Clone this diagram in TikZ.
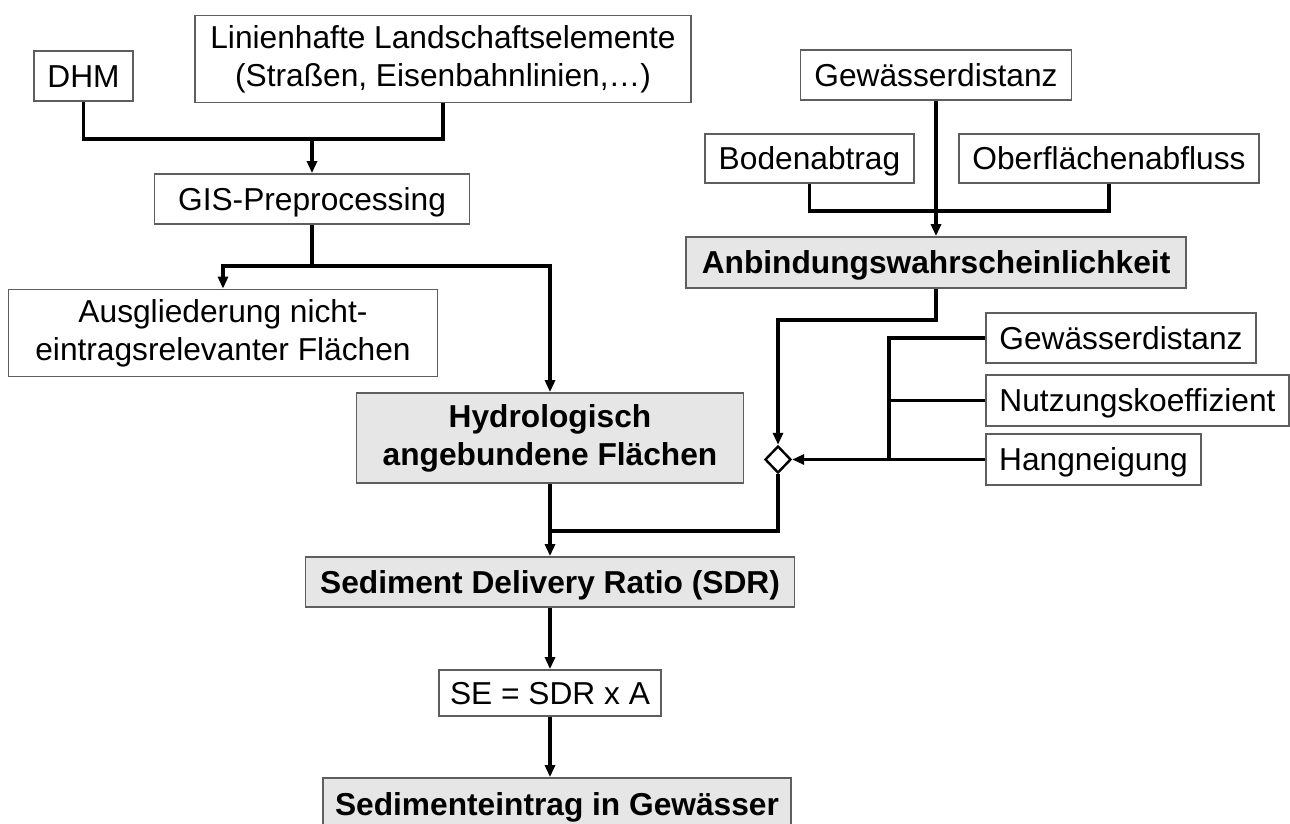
\documentclass[tikz,border=0pt]{standalone}
\usepackage{fontspec}
\setmainfont{Liberation Sans}
\usepackage{xcolor}
\usepackage{tikz}
\usetikzlibrary{arrows.meta,shapes.geometric}
\definecolor{rulegray}{HTML}{5E5E5E}
\definecolor{softgray}{HTML}{E6E6E6}

\begin{document}
\begin{tikzpicture}[x=0.5pt,y=-0.5pt,every node/.style={font=\fontsize{15.85pt}{19pt}\selectfont},box/.style={draw=rulegray,line width=0.9pt,fill=white,align=center,inner sep=0pt},oneline/.style={text height=11.4pt,text depth=0pt},result/.style={box,fill=softgray,font=\fontsize{15.85pt}{19pt}\selectfont\bfseries},merge/.style={diamond,draw,line width=1.2pt,fill=white,inner sep=0pt,minimum width=13pt,minimum height=13.5pt},line/.style={line width=1.6pt},arr/.style={line,-{Triangle[length=6pt,width=5pt]}}]
\useasboundingbox (0,0) rectangle (1290,824);
% left branch
\node[box,oneline,minimum width=49.5pt,minimum height=25pt] (dhm) at (83.5,76) {DHM};
\node[box,minimum width=248pt,minimum height=43.5pt] (lin) at (443,59) {Linienhafte Landschaftselemente\\(Straßen, Eisenbahnlinien,\dots)};
\node[box,oneline,minimum width=157.5pt,minimum height=25pt] (gis) at (312,199) {GIS-Preprocessing};
\node[box,minimum width=214.5pt,minimum height=43.5pt] (ausg) at (223,333) {Ausgliederung nicht-\\eintragsrelevanter Flächen};
\node[result,minimum width=193.5pt,minimum height=45pt] (hydro) at (550,438) {Hydrologisch\\angebundene Flächen};
% right branch
\node[box,oneline,minimum width=135.5pt,minimum height=25pt] (gew) at (936,75) {Gewässerdistanz};
\node[box,oneline,minimum width=104.5pt,minimum height=24.5pt] (boden) at (809.5,158.5) {Bodenabtrag};
\node[box,oneline,minimum width=150pt,minimum height=24.5pt] (ober) at (1109,158.5) {Oberflächenabfluss};
\node[result,oneline,minimum width=250pt,minimum height=25.5pt] (anb) at (936,262.5) {Anbindungswahrscheinlichkeit};
\node[box,oneline,minimum width=135pt,minimum height=25pt] (gewb) at (1121,338) {Gewässerdistanz};
\node[box,oneline,minimum width=151.5pt,minimum height=25.5pt] (nutz) at (1137.5,400.5) {Nutzungskoeffizient};
\node[box,oneline,minimum width=107.5pt,minimum height=25.5pt] (hang) at (1093.5,459.5) {Hangneigung};
\node[merge] (mrg) at (778,459.5) {};
% result chain
\node[result,oneline,minimum width=244.5pt,minimum height=25pt] (sdr) at (550,582) {Sediment Delivery Ratio (SDR)};
\node[box,oneline,minimum width=111pt,minimum height=23pt] (se) at (550,693) {SE = SDR x A};
\node[result,oneline,minimum width=234pt,minimum height=26pt] (sed) at (557,804) {Sedimenteintrag in Gewässer};
% connectors
\coordinate (topjoin) at (312,139);\coordinate (gisjoin) at (312,266);\coordinate (bus) at (889,459.5);\coordinate (sdrjoin) at (550,531);
\draw[line] (dhm.south) |- (topjoin) -| (lin.south);\draw[arr] (topjoin) -- (gis.north);
\draw[line] (gis.south) -- (gisjoin);\draw[arr] (gisjoin) -| (ausg.north);\draw[arr] (gisjoin) -| (hydro.north);
\draw[arr] (gew.south) -- (anb.north);\draw[line] (boden.south) -- ++(0,27) -| (ober.south);
\draw[arr] (anb.south) -- ++(0,31) -| (mrg.north);
\draw[line] (gewb.west) -| (bus);\draw[line] (nutz.west) -- (nutz.west -| bus);\draw[arr] (hang.west) -- (mrg.east);
\draw[line] (mrg.south) |- (sdrjoin);\draw[arr] (hydro.south) -- (sdr.north);
\draw[arr] (sdr.south) -- (se.north);\draw[arr] (se.south) -- (se.south |- sed.north);
\end{tikzpicture}
\end{document}
